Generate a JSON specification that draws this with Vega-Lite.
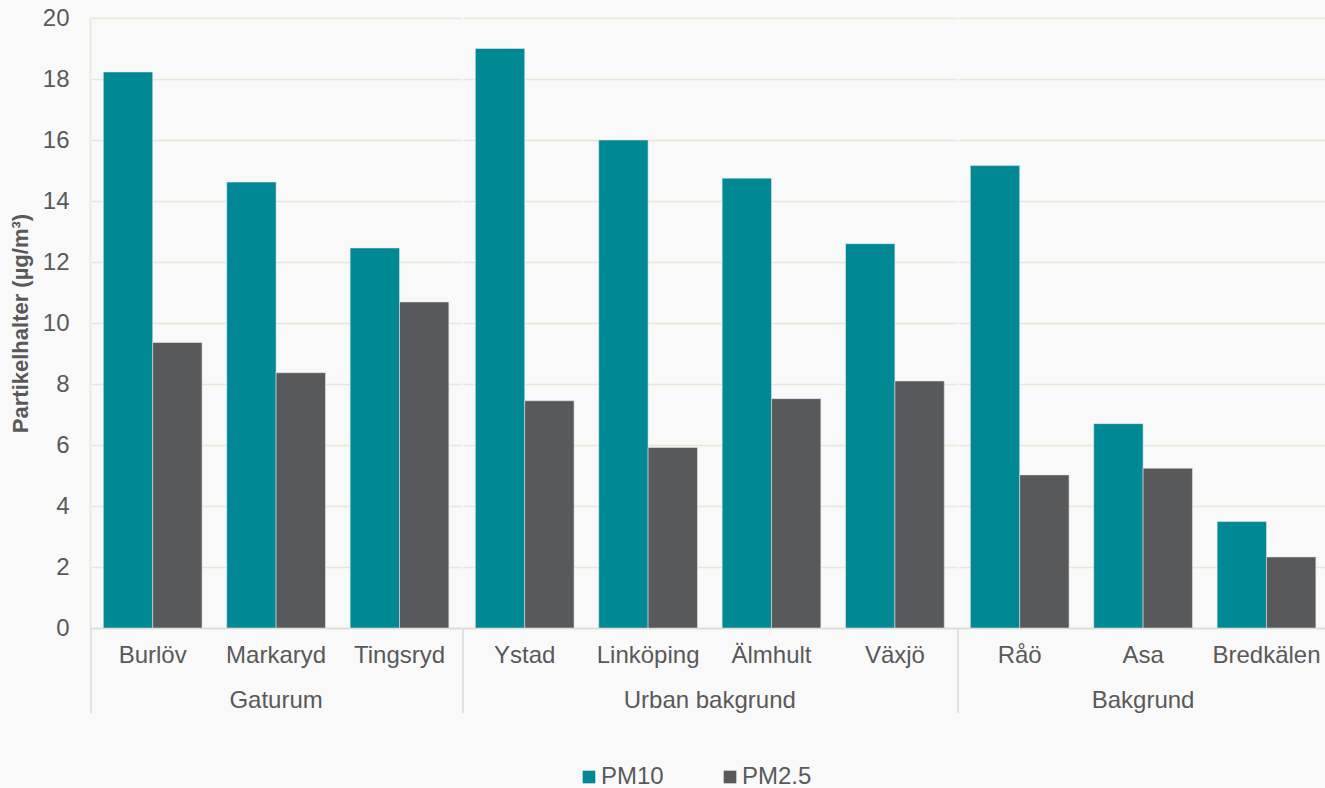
{
  "$schema": "https://vega.github.io/schema/vega-lite/v6.json",
  "background": "#f9f9f9",
  "padding": {"left": 9, "top": 6, "right": 0, "bottom": 0},
  "config": {"font": "Liberation Sans", "view": {"stroke": null}},
  "data": {
    "values": [
      {"city": "Burlöv", "group": "Gaturum", "series": "PM10", "value": 18.23},
      {"city": "Burlöv", "group": "Gaturum", "series": "PM2.5", "value": 9.36},
      {"city": "Markaryd", "group": "Gaturum", "series": "PM10", "value": 14.62},
      {"city": "Markaryd", "group": "Gaturum", "series": "PM2.5", "value": 8.37},
      {"city": "Tingsryd", "group": "Gaturum", "series": "PM10", "value": 12.46},
      {"city": "Tingsryd", "group": "Gaturum", "series": "PM2.5", "value": 10.69},
      {"city": "Ystad", "group": "Urban bakgrund", "series": "PM10", "value": 19.0},
      {"city": "Ystad", "group": "Urban bakgrund", "series": "PM2.5", "value": 7.45},
      {"city": "Linköping", "group": "Urban bakgrund", "series": "PM10", "value": 16.0},
      {"city": "Linköping", "group": "Urban bakgrund", "series": "PM2.5", "value": 5.92},
      {"city": "Älmhult", "group": "Urban bakgrund", "series": "PM10", "value": 14.75},
      {"city": "Älmhult", "group": "Urban bakgrund", "series": "PM2.5", "value": 7.52},
      {"city": "Växjö", "group": "Urban bakgrund", "series": "PM10", "value": 12.6},
      {"city": "Växjö", "group": "Urban bakgrund", "series": "PM2.5", "value": 8.1},
      {"city": "Råö", "group": "Bakgrund", "series": "PM10", "value": 15.16},
      {"city": "Råö", "group": "Bakgrund", "series": "PM2.5", "value": 5.02},
      {"city": "Asa", "group": "Bakgrund", "series": "PM10", "value": 6.7},
      {"city": "Asa", "group": "Bakgrund", "series": "PM2.5", "value": 5.24},
      {"city": "Bredkälen", "group": "Bakgrund", "series": "PM10", "value": 3.49},
      {"city": "Bredkälen", "group": "Bakgrund", "series": "PM2.5", "value": 2.33}
    ]
  },
  "facet": {
    "column": {
      "field": "group",
      "type": "nominal",
      "sort": ["Gaturum", "Urban bakgrund", "Bakgrund"],
      "header": {
        "title": null,
        "labelOrient": "bottom",
        "labelFont": "Liberation Sans",
        "labelFontSize": 24,
        "labelColor": "#595959",
        "labelPadding": -25
      }
    }
  },
  "spacing": 0,
  "resolve": {"scale": {"x": "independent"}},
  "spec": {
    "width": {"step": 49.36},
    "height": 610,
    "layer": [
      {
        "mark": {"type": "bar", "stroke": "#e6e6e6", "strokeWidth": 0.8, "strokeOpacity": 0.7},
        "encoding": {
          "x": {
            "field": "city",
            "type": "nominal",
            "sort": ["Burlöv", "Markaryd", "Tingsryd", "Ystad", "Linköping", "Älmhult", "Växjö", "Råö", "Asa", "Bredkälen"],
            "scale": {"paddingInner": 0.2, "paddingOuter": 0.1},
            "axis": {
              "title": null,
              "labelAngle": 0,
              "labelFontSize": 24,
              "labelColor": "#595959",
              "labelPadding": 15,
              "ticks": false,
              "domainColor": "#d9d9d9",
              "domainWidth": 1.5
            }
          },
          "xOffset": {"field": "series", "type": "nominal", "sort": ["PM10", "PM2.5"]},
          "y": {
            "field": "value",
            "type": "quantitative",
            "scale": {"domain": [0, 20]},
            "axis": {
              "title": "Partikelhalter (µg/m³)",
              "titleFontSize": 22,
              "titleFontWeight": "bold",
              "titleColor": "#595959",
              "titlePadding": 10,
              "labelFontSize": 24,
              "labelColor": "#595959",
              "labelPadding": 21,
              "ticks": false,
              "values": [0, 2, 4, 6, 8, 10, 12, 14, 16, 18, 20],
              "gridColor": "#e9e6d8",
              "gridWidth": 1.5,
              "domainColor": "#e9e6d8",
              "domainWidth": 1.5
            }
          },
          "color": {
            "field": "series",
            "type": "nominal",
            "scale": {"domain": ["PM10", "PM2.5"], "range": ["#008894", "#58595b"]},
            "legend": {
              "title": null,
              "orient": "none",
              "legendX": 486,
              "legendY": 747,
              "direction": "horizontal",
              "symbolType": "square",
              "symbolSize": 160,
              "symbolStrokeWidth": 0,
              "labelFontSize": 24,
              "labelColor": "#595959",
              "labelOffset": 0,
              "columnPadding": 54
            }
          }
        }
      },
      {
        "transform": [
          {"filter": {"field": "city", "oneOf": ["Burlöv", "Ystad", "Råö"]}},
          {"filter": {"field": "series", "equal": "PM10"}}
        ],
        "mark": {"type": "rule", "color": "#d9d9d9", "strokeWidth": 1.5},
        "encoding": {
          "x": {
            "field": "city",
            "type": "nominal",
            "sort": ["Burlöv", "Markaryd", "Tingsryd", "Ystad", "Linköping", "Älmhult", "Växjö", "Råö", "Asa", "Bredkälen"],
            "bandPosition": -0.125
          },
          "y": {"datum": 0},
          "y2": {"datum": -2.79}
        }
      }
    ]
  }
}
